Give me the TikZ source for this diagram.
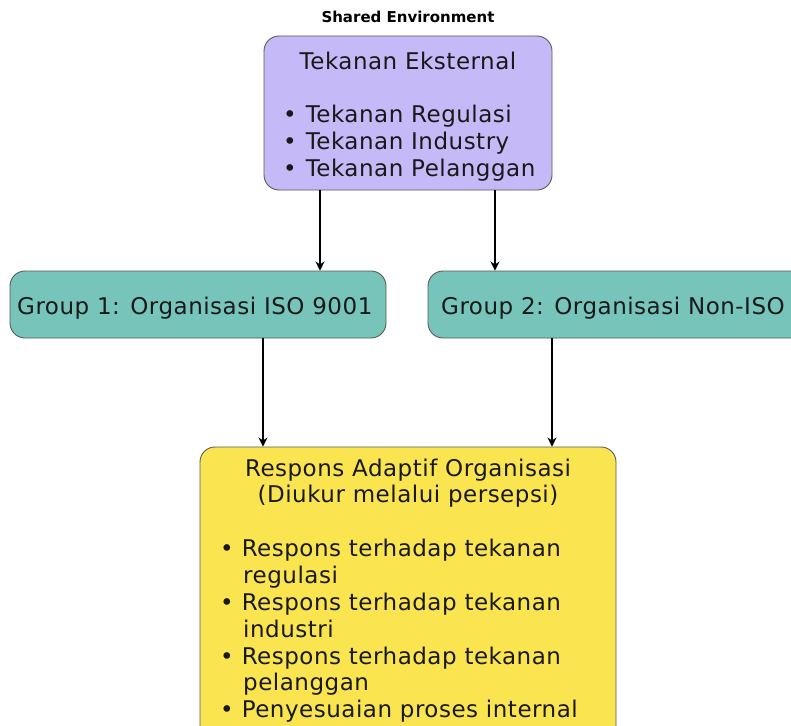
\documentclass[tikz,border=0pt]{standalone}
\usepackage{fontspec}
\setmainfont[LetterSpace=2.2]{DejaVu Sans}
\newfontfamily\titlefont{DejaVu Sans}
\usetikzlibrary{arrows.meta}
\definecolor{purplebox}{HTML}{C6B9F7}
\definecolor{tealbox}{HTML}{77C4BB}
\definecolor{yellowbox}{HTML}{FAE551}
\definecolor{edgegray}{HTML}{5A5A5A}
\begin{document}
\begin{tikzpicture}[x=1pt,y=-1pt,
  box/.style={draw=edgegray,line width=0.9pt,rounded corners=15pt,inner sep=0pt},
  txt/.style={inner sep=0pt,font=\fontsize{23}{27}\selectfont,text=black!90},
  arr/.style={line width=1.8pt,-{Stealth[length=9pt,width=9pt]}}]
\useasboundingbox (0,0) rectangle (791,725);
\clip (0,0) rectangle (791,725);
\fill[white] (0,0) rectangle (791,725);
% title
\node[inner sep=0pt,anchor=base,font=\titlefont\bfseries\fontsize{15}{18}\selectfont] (title) at (408,22.5) {Shared Environment};
% boxes
\node[box,fill=purplebox,minimum width=288pt,minimum height=154pt] (pe) at (408,113) {};
\node[box,fill=tealbox,minimum width=376pt,minimum height=67pt] (g1) at (198,304.5) {};
\node[box,fill=tealbox,minimum width=390pt,minimum height=67pt] (g2) at (623,304.5) {};
\node[box,fill=yellowbox,minimum width=416pt,minimum height=300pt] (ra) at (408,597) {};
% purple text
\node[txt,anchor=base] (peh) at (408,69) {Tekanan Eksternal};
\node[txt,anchor=base west] (pe1) at (283,122) {\textbullet\hspace{9pt}Tekanan Regulasi};
\node[txt,anchor=base west] (pe2) at (283,149) {\textbullet\hspace{9pt}Tekanan Industry};
\node[txt,anchor=base west] (pe3) at (283,176) {\textbullet\hspace{9pt}Tekanan Pelanggan};
% group text
\node[txt,anchor=base west] (g1t) at (17,314) {Group 1: Organisasi ISO 9001};
\node[txt,anchor=base west] (g2t) at (441,314) {Group 2: Organisasi Non-ISO};
% yellow text
\node[txt,anchor=base] (rah1) at (408,476) {Respons Adaptif Organisasi};
\node[txt,anchor=base] (rah2) at (408,502) {(Diukur melalui persepsi)};
\node[txt,anchor=base west] (r1) at (220,556) {\textbullet\hspace{8pt}Respons terhadap tekanan};
\node[txt,anchor=base west] (r1b) at (243,583) {regulasi};
\node[txt,anchor=base west] (r2) at (220,610) {\textbullet\hspace{8pt}Respons terhadap tekanan};
\node[txt,anchor=base west] (r2b) at (243,637) {industri};
\node[txt,anchor=base west] (r3) at (220,664) {\textbullet\hspace{8pt}Respons terhadap tekanan};
\node[txt,anchor=base west] (r3b) at (243,690) {pelanggan};
\node[txt,anchor=base west] (r4) at (220,717) {\textbullet\hspace{8pt}Penyesuaian proses internal};
% arrows
\coordinate (xa) at (320,0);
\coordinate (xb) at (495,0);
\coordinate (xc) at (263,0);
\coordinate (xd) at (552,0);
\draw[arr] (pe.south -| xa) -- (g1.north -| xa);
\draw[arr] (pe.south -| xb) -- (g2.north -| xb);
\draw[arr] (g1.south -| xc) -- (ra.north -| xc);
\draw[arr] (g2.south -| xd) -- (ra.north -| xd);
\end{tikzpicture}
\end{document}
